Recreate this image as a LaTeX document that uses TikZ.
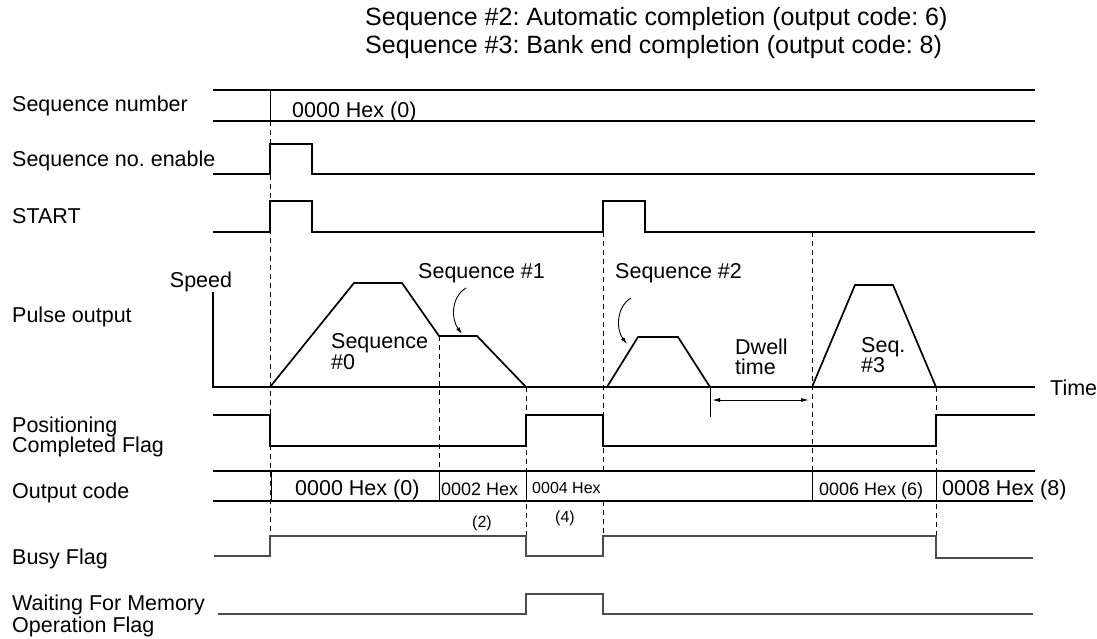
\documentclass[tikz,border=0pt]{standalone}
\usepackage{fontspec}
\setmainfont{Liberation Sans}
\usetikzlibrary{arrows.meta,positioning}
\tikzset{
  sigtext/.style={anchor=base west,inner sep=0pt,font=\fontsize{21.5}{21.5}\selectfont},
  titletext/.style={sigtext,font=\fontsize{25}{25}\selectfont},
  midtext/.style={sigtext,font=\fontsize{18}{18}\selectfont},
  smalltext/.style={sigtext,font=\fontsize{16}{16}\selectfont},
  sigline/.style={draw=black,line width=1.7pt},
  axisline/.style={draw=black,line width=1.2pt},
  flagline/.style={draw=black!70,line width=1.1pt},
  rowdivider/.style={draw=black,line width=0.9pt},
  guideline/.style={draw=black,line width=0.9pt,dash pattern=on 5pt off 4pt},
  seqarrow/.style={draw=black,line width=0.9pt,-{Latex[length=7pt,width=4pt]}},
  dwellarrow/.style={draw=black,line width=0.9pt,{Latex[length=8pt,width=4pt]}-{Latex[length=8pt,width=4pt]}},
}
\begin{document}
\frenchspacing
\begin{tikzpicture}[x=1pt,y=-1pt]
\path[use as bounding box] (0,0) rectangle (1097,639);

\node[titletext] (titletwo) at (365,26) {Sequence \#2: Automatic completion (output code: 6)};
\node[titletext] (titlethree) at (365,54) {Sequence \#3: Bank end completion (output code: 8)};

\node[sigtext] (seqnumlabel) at (12,112) {Sequence number};
\node[sigtext] (enablelabel) at (12,167) {Sequence no. enable};
\node[sigtext] (startlabel) at (12,223) {START};
\node[sigtext,anchor=base] (speedlabel) at (201,287) {Speed};
\node[sigtext] (pulselabel) at (12,322) {Pulse output};
\node[sigtext] (poslabel) at (12,432) {Positioning};
\node[sigtext] (poslabelb) at (12,452) {Completed Flag};
\node[sigtext] (codelabel) at (12,498) {Output code};
\node[sigtext] (busylabel) at (12,564) {Busy Flag};
\node[sigtext] (waitlabel) at (12,610) {Waiting For Memory};
\node[sigtext] (waitlabelb) at (12,632) {Operation Flag};

% guide lines
\draw[guideline] (270,121) -- (270,536);
\draw[guideline] (439,336) -- (439,471);
\draw[guideline] (526,387) -- (526,536);
\draw[guideline] (603,232) -- (603,471);
\draw[guideline] (603,501) -- (603,536);
\draw[guideline] (812,232) -- (812,471);
\draw[guideline] (936,387) -- (936,536);

% sequence number
\draw[sigline] (213,90) -- (1035,90);
\draw[sigline] (213,121) -- (1035,121);
\draw[rowdivider] (270,90) -- (270,121);
\node[sigtext] (seqnumval) at (292,118) {0000 Hex (0)};

\draw[sigline] (213,174) -- (270,174) -- (270,144) -- (312,144) -- (312,174) -- (1035,174);
\draw[sigline] (213,232) -- (270,232) -- (270,201) -- (312,201) -- (312,232) -- (603,232)
  -- (603,201) -- (645,201) -- (645,232) -- (1035,232);

% pulse output
\draw[axisline] (213,292) -- (213,387) -- (1035,387);
\draw[sigline] (270,387) -- (354,283) -- (402,283) -- (439,336) -- (477,336) -- (526,387);
\draw[sigline] (607,387) -- (638,337) -- (678,337) -- (710,387);
\draw[sigline] (812,387) -- (855,285) -- (893,285) -- (936,387);
\node[sigtext] (timelabel) at (1050,395) {Time};
\node[sigtext] (seqzerolabel) at (331,348) {Sequence};
\node[sigtext] (seqzerolabelb) at (331,369) {\#0};
\node[sigtext] (seqonelabel) at (418,278) {Sequence \#1};
\node[sigtext] (seqtwolabel) at (615,278) {Sequence \#2};
\node[sigtext] (dwelllabel) at (735,354) {Dwell};
\node[sigtext] (dwelllabelb) at (735,374) {time};
\node[sigtext] (seqthreelabel) at (861,352) {Seq.};
\node[sigtext] (seqthreelabelb) at (861,372) {\#3};
\coordinate (seqonetail) at (466,288);
\coordinate (seqonehead) at (462,334);
\coordinate (seqtwotail) at (631,298);
\coordinate (seqtwohead) at (627,344);
\draw[seqarrow] (seqonetail) .. controls (451,297) and (451,319) .. (seqonehead);
\draw[seqarrow] (seqtwotail) .. controls (616,307) and (616,330) .. (seqtwohead);
\coordinate (dwellstart) at (712,400);
\coordinate (dwellend) at (809,400);
\draw[rowdivider] (710,387) -- (710,417);
\draw[dwellarrow] (dwellstart) -- (dwellend);

% positioning completed
\draw[sigline] (213,415) -- (270,415) -- (270,446) -- (526,446) -- (526,415) -- (603,415)
  -- (603,446) -- (936,446) -- (936,415) -- (1035,415);

% output code
\draw[sigline] (213,471) -- (1035,471);
\draw[sigline] (213,501) -- (1033,501);
\foreach \xdiv in {271,439,526,812,936}
  \draw[rowdivider] (\xdiv,471) -- (\xdiv,501);
\node[sigtext] (codezero) at (295,495) {0000 Hex (0)};
\node[midtext] (codetwo) at (441,495) {0002 Hex};
\node[smalltext] (codefour) at (532,493) {0004 Hex};
\node[midtext] (codesix) at (819,495) {0006 Hex (6)};
\node[sigtext] (codeeight) at (942,495) {0008 Hex (8)};
\node[smalltext,anchor=base] (codetwonote) at (482,527) {(2)};
\node[smalltext,anchor=base] (codefournote) at (565,522) {(4)};

% busy and waiting
\draw[flagline] (214,556) -- (270,556) -- (270,536) -- (526,536) -- (526,556) -- (603,556)
  -- (603,536) -- (936,536) -- (936,558) -- (1033,558);
\draw[flagline] (218,614) -- (526,614) -- (526,594) -- (603,594) -- (603,614) -- (1033,614);
\end{tikzpicture}
\end{document}
